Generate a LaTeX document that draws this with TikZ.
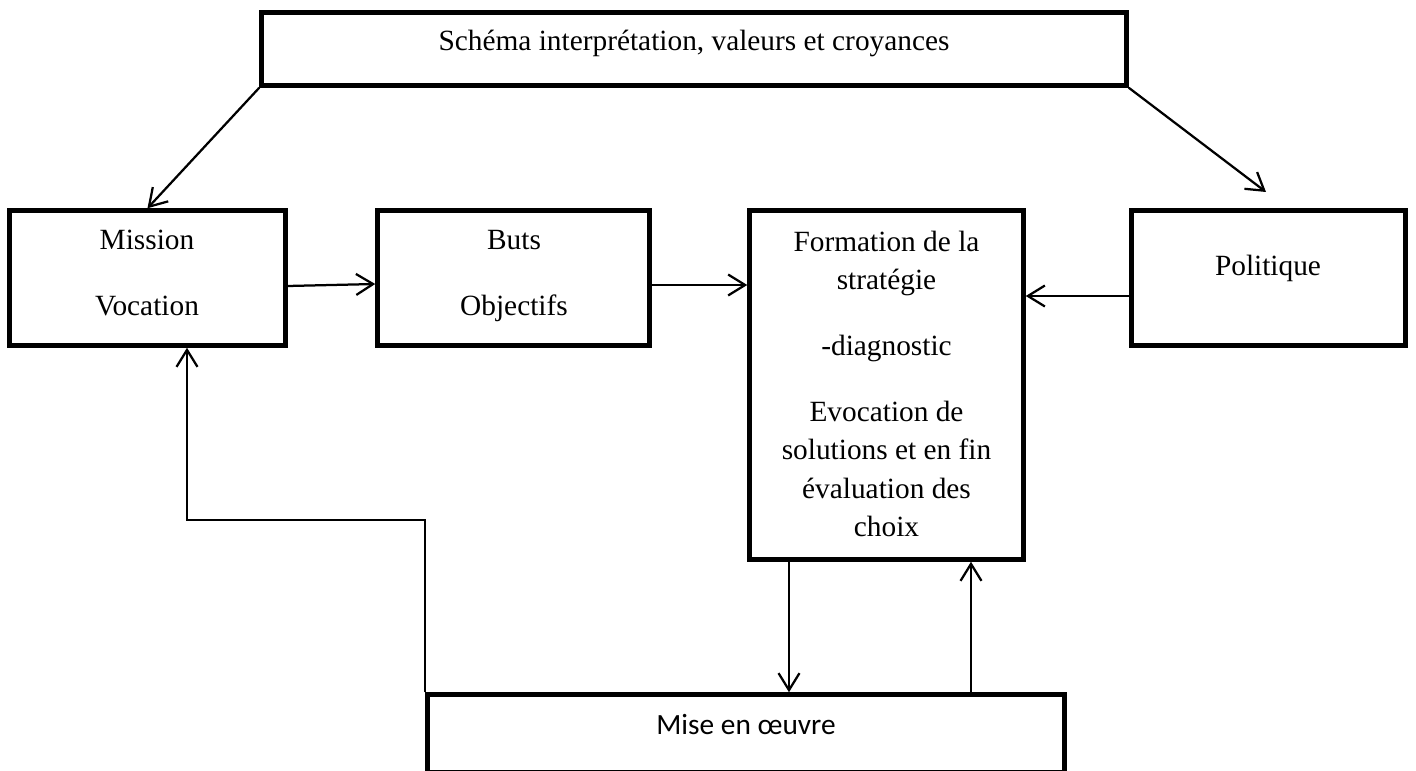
\documentclass[tikz,border=0pt]{standalone}
\usepackage{fontspec}
\setmainfont{Liberation Serif}
\newfontfamily\calibrifont{Carlito}
\usetikzlibrary{arrows.meta}
\tikzset{
  box/.style={draw, line width=0.09cm, inner sep=0pt, outer sep=0.045cm},
  link/.style={line width=0.045cm, -{Straight Barb[length=0.34cm,width=0.42cm]}},
  txt/.style={align=center, inner sep=0pt, font=\fontsize{16.7}{21.9}\selectfont},
}
\begin{document}
\begin{tikzpicture}
    \useasboundingbox (0,0) rectangle (28.32,-15.42);
    % boxes
    \node[box, minimum width=17.30cm, minimum height=1.46cm] (schema) at (13.88,-0.98) {};
    \node[box, minimum width=5.52cm, minimum height=2.70cm] (mission) at (2.95,-5.56) {};
    \node[box, minimum width=5.44cm, minimum height=2.70cm] (buts) at (10.27,-5.56) {};
    \node[box, minimum width=5.48cm, minimum height=6.98cm] (formation) at (17.73,-7.70) {};
    \node[box, minimum width=5.48cm, minimum height=2.70cm] (politique) at (25.37,-5.56) {};
    \node[box, minimum width=12.74cm, minimum height=1.55cm] (mise) at (14.92,-14.665) {};
    % texts
    \node[txt] (schematxt) at (13.88,-0.86) {Schéma interprétation, valeurs et croyances};
    \node[txt] (missiontxt) at (2.94,-5.46) {Mission\\[15.6pt]Vocation};
    \node[txt] (butstxt) at (10.28,-5.52) {Buts\\[15.6pt]Objectifs};
    \node[txt] (formationtxt) at (17.73,-7.68) {
      Formation de la\\stratégie\\[15.6pt]
      -diagnostic\\[15.6pt]
      Evocation de\\solutions et en fin\\évaluation des\\choix
    };
    \node[txt] (politiquetxt) at (25.36,-5.36) {Politique};
    \node[txt, font=\calibrifont\fontsize{16.7}{21.9}\selectfont] (misetxt) at (14.92,-14.50) {Mise en œuvre};
    % connectors
    \coordinate (polin) at (25.32,-3.84);
    \draw[link] (schema.south west) -- (mission.north);
    \draw[link] (schema.south east) -- (polin);
    \draw[link] ([yshift=-0.16cm]mission.east) -- ([yshift=-0.12cm]buts.west);
    \draw[link] ([yshift=-0.14cm]buts.east) -- ([yshift=-0.14cm]buts.east -| formation.west);
    \draw[link] ([yshift=-0.36cm]politique.west) -- ([yshift=-0.36cm]politique.west -| formation.east);
    \draw[link] ([xshift=-1.95cm]formation.south) -- ([xshift=-1.95cm]formation.south |- mise.north);
    \draw[link] ([xshift=1.69cm]formation.south |- mise.north) -- ([xshift=1.69cm]formation.south);
    \draw[link] (mise.north west) -- ++(0,3.44) -| ([xshift=0.79cm]mission.south);
  \end{tikzpicture}
\end{document}
